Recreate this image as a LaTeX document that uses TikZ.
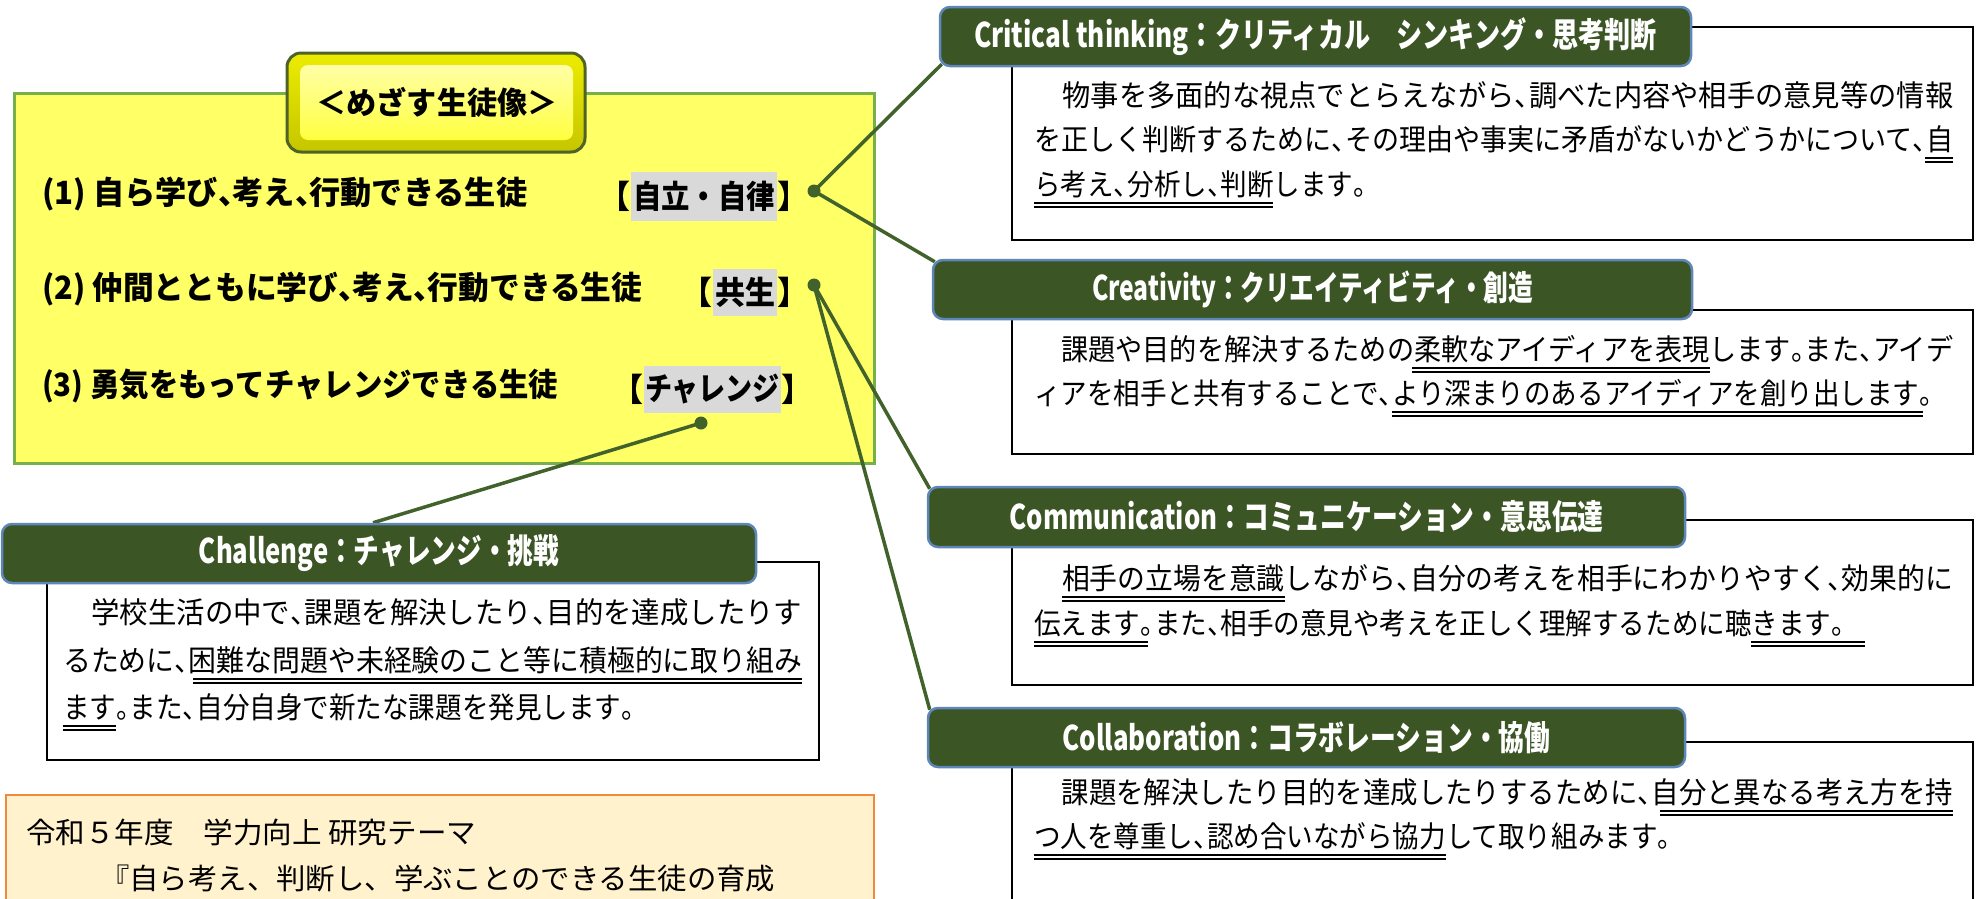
\documentclass[tikz,border=0pt]{standalone}
\usepackage{fontspec}
\usepackage{graphicx}
\setmainfont{Noto Sans CJK JP}
\newfontfamily\jp{Noto Sans CJK JP}
\newfontfamily\jpbody{Noto Sans CJK JP}[FakeStretch=0.9]
\definecolor{hdgreen}{HTML}{3B5524}
\definecolor{hdborder}{HTML}{5E86B8}
\definecolor{lngreen}{HTML}{41622A}
\definecolor{ylw}{HTML}{FFFF66}
\definecolor{ylwborder}{HTML}{77B04B}
\definecolor{btnborder}{HTML}{4F6228}
\definecolor{hlgray}{HTML}{D9D9D9}
\definecolor{orfill}{HTML}{FFF2CC}
\definecolor{orborder}{HTML}{F0883E}
\pgfdeclarelayer{bg}\pgfdeclarelayer{mid}\pgfsetlayers{bg,mid,main}
\newcommand\jten{\makebox[0.46em][l]{、}}
\newcommand\jmaru{\makebox[0.46em][l]{。}}
\newcommand\fitto[2]{\resizebox{#1}{\height}{#2}}
\tikzset{
  bodytxt/.style={anchor=west, inner sep=0pt, font={\jpbody\fontsize{29.5}{30}\selectfont}},
  listtxt/.style={anchor=west, inner sep=0pt, font={\jp\bfseries\fontsize{32}{34}\selectfont}},
  themetxt/.style={anchor=west, inner sep=0pt, font={\jp\fontsize{29}{30}\selectfont}},
  titletxt/.style={inner sep=0pt, font={\jp\bfseries\fontsize{31}{33}\selectfont}},
  hdrbox/.style={draw=hdborder, line width=2.5pt, fill=hdgreen, rounded corners=10pt, text=white, inner sep=0pt, font={\jp\bfseries\fontsize{34}{36}\selectfont}},
  boxframe/.style={draw=black, line width=2.5pt},
  dotnode/.style={circle, fill=lngreen, inner sep=0pt, minimum size=13pt},
  conn/.style={draw=lngreen, line width=3.5pt},
  dulline/.style={draw=black, double=white, line width=1.8pt, double distance=1.8pt},
  hlbox/.style={fill=hlgray, inner sep=0pt, font={\jp\bfseries\fontsize{32}{34}\selectfont}},
  brknode/.style={inner sep=0pt, font={\jp\bfseries\fontsize{32}{34}\selectfont}}
}
\begin{document}
\begin{tikzpicture}[x=1pt,y=-1pt]
\useasboundingbox (0,0) rectangle (1979,898);
\clip (0,0) rectangle (1979,898);

\begin{pgfonlayer}{bg}
  % yellow panel
  \draw[line width=3pt, draw=ylwborder, fill=ylw] (14,93) rectangle (874,463);
  % text frames
  \draw[boxframe] (1012,27) rectangle (1973,240);
  \draw[boxframe] (1012,310) rectangle (1973,454);
  \draw[boxframe] (1012,520) rectangle (1973,685);
  \draw[boxframe] (1012,742) rectangle (1973,930);
  \draw[boxframe] (47,562) rectangle (819,760);
  % theme box
  \draw[line width=2.5pt, draw=orborder, fill=orfill] (6,795) rectangle (874,930);
\end{pgfonlayer}

% title button
\draw[line width=3pt, draw=btnborder, rounded corners=14pt, top color=yellow!85!olive, bottom color=yellow!55!olive] (287,53) rectangle (585,152);
\shade[rounded corners=8pt, top color=yellow!35!white, bottom color=yellow!75!white] (300,65) rectangle (573,140);
\node[titletxt] (title) at (437,102) {\fitto{241pt}{＜めざす生徒像＞}};

% list lines
\node[listtxt] (l1) at (42,194) {\fitto{485pt}{(1) 自ら学び\jten{}考え\jten{}行動できる生徒}};
\node[listtxt] (l2) at (42,289) {\fitto{600pt}{(2) 仲間とともに学び\jten{}考え\jten{}行動できる生徒}};
\node[listtxt] (l3) at (42,386) {\fitto{516pt}{(3) 勇気をもってチャレンジできる生徒}};

\node[hlbox, minimum width=146pt, minimum height=49pt] (k1) at (704,196) {\fitto{142pt}{自立・自律}};
\node[brknode, anchor=east] (k1l) at (k1.west) {【};
\node[brknode, anchor=west] (k1r) at (k1.east) {】};
\node[hlbox, minimum width=64pt, minimum height=47pt] (k2) at (745,292) {\fitto{60pt}{共生}};
\node[brknode, anchor=east] (k2l) at (k2.west) {【};
\node[brknode, anchor=west] (k2r) at (k2.east) {】};
\node[hlbox, minimum width=137pt, minimum height=47pt] (k3) at (712.5,389) {\fitto{135pt}{チャレンジ}};
\node[brknode, anchor=east] (k3l) at (k3.west) {【};
\node[brknode, anchor=west] (k3r) at (k3.east) {】};

% dots
\node[dotnode] (d1) at (814,191) {};
\node[dotnode] (d2) at (814,285) {};
\node[dotnode] (d3) at (701,423) {};

% headers
\node[hdrbox, minimum width=751pt, minimum height=59pt] (crit) at (1315.5,36.5) {\fitto{683pt}{Critical thinking：クリティカル　シンキング・思考判断}};
\node[hdrbox, minimum width=759pt, minimum height=59pt] (crea) at (1312.5,289.5) {\fitto{441pt}{Creativity：クリエイティビティ・創造}};
\node[hdrbox, minimum width=757pt, minimum height=60pt] (comm) at (1306.5,517) {\fitto{594pt}{Communication：コミュニケーション・意思伝達}};
\node[hdrbox, minimum width=757pt, minimum height=59pt] (coll) at (1306.5,737.5) {\fitto{488pt}{Collaboration：コラボレーション・協働}};
\node[hdrbox, minimum width=754pt, minimum height=59pt] (chal) at (379,553.5) {\fitto{360pt}{Challenge：チャレンジ・挑戦}};

% connectors
\begin{pgfonlayer}{mid}
  \draw[conn] (d1.center) -- ([shift={(3,-3)}]crit.south west);
  \draw[conn] (d1.center) -- ([shift={(3,3)}]crea.north west);
  \draw[conn] (d2.center) -- ([shift={(3,3)}]comm.north west);
  \draw[conn] (d2.center) -- ([shift={(3,3)}]coll.north west);
  \draw[conn] (d3.center) -- ([xshift=-6pt]chal.north);
\end{pgfonlayer}

% Critical thinking text
\node[bodytxt] (c1) at (1034,95) {\fitto{919pt}{　物事を多面的な視点でとらえながら\jten{}調べた内容や相手の意見等の情報}};
\node[bodytxt] (c2) at (1034,139) {\fitto{919pt}{を正しく判断するために\jten{}その理由や事実に矛盾がないかどうかについて\jten{}自}};
\node[bodytxt] (c3) at (1034,184) {ら考え\jten{}分析し\jten{}判断します\jmaru{}};
\draw[dulline] ([shift={(-28,21)}]c2.east) -- ++(28,0);
\draw[dulline] ([shift={(0,21)}]c3.west) -- ++(239,0);

% Creativity text
\node[bodytxt] (r1) at (1034,349) {\fitto{919pt}{　課題や目的を解決するための柔軟なアイディアを表現します\jmaru{}また\jten{}アイデ}};
\node[bodytxt] (r2) at (1034,393) {ィアを相手と共有することで\jten{}より深まりのあるアイディアを創り出します\jmaru{}};
\draw[dulline] ([shift={(378,21)}]r1.west) -- ++(298,0);
\draw[dulline] ([shift={(358,21)}]r2.west) -- ++(531,0);

% Communication text
\node[bodytxt] (m1) at (1034,578) {\fitto{919pt}{　相手の立場を意識しながら\jten{}自分の考えを相手にわかりやすく\jten{}効果的に}};
\node[bodytxt] (m2) at (1034,623) {伝えます\jmaru{}また\jten{}相手の意見や考えを正しく理解するために聴きます\jmaru{}};
\draw[dulline] ([shift={(28,21)}]m1.west) -- ++(223,0);
\draw[dulline] ([shift={(0,21)}]m2.west) -- ++(114,0);
\draw[dulline] ([shift={(717,21)}]m2.west) -- ++(114,0);

% Collaboration text
\node[bodytxt] (o1) at (1034,792) {\fitto{919pt}{　課題を解決したり目的を達成したりするために\jten{}自分と異なる考え方を持}};
\node[bodytxt] (o2) at (1034,836) {つ人を尊重し\jten{}認め合いながら協力して取り組みます\jmaru{}};
\draw[dulline] ([shift={(-293,21)}]o1.east) -- ++(293,0);
\draw[dulline] ([shift={(0,21)}]o2.west) -- ++(412,0);

% Challenge text
\node[bodytxt] (h1) at (63,612) {\fitto{739pt}{　学校生活の中で\jten{}課題を解決したり\jten{}目的を達成したりす}};
\node[bodytxt] (h2) at (63,660) {\fitto{739pt}{るために\jten{}困難な問題や未経験のこと等に積極的に取り組み}};
\node[bodytxt] (h3) at (63,707) {ます\jmaru{}また\jten{}自分自身で新たな課題を発見します\jmaru{}};
\draw[dulline] ([shift={(-609,21)}]h2.east) -- ++(609,0);
\draw[dulline] ([shift={(0,21)}]h3.west) -- ++(53,0);

% theme
\node[themetxt] (t1) at (26,832) {\fitto{450pt}{令和５年度　学力向上 研究テーマ}};
\node[themetxt] (t2) at (100,879) {\fitto{675pt}{『自ら考え、判断し、学ぶことのできる生徒の育成}};
\end{tikzpicture}
\end{document}
